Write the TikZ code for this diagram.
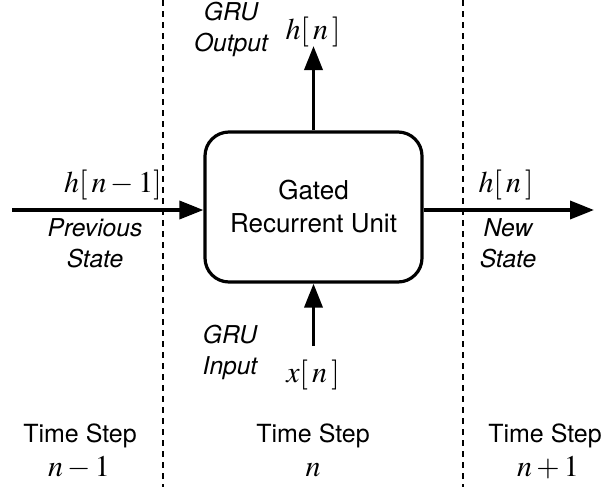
\documentclass[tikz,border=0pt]{standalone}
\usepackage{mathptmx}
\usepackage{fontspec}
\setsansfont{TeX Gyre Heros}
\usetikzlibrary{arrows.meta}
\tikzset{
  unitbox/.style={draw, line width=1.6pt, rounded corners=12pt, minimum width=108.5pt, minimum height=75pt, align=center, font=\sffamily\fontsize{13}{16.5}\selectfont},
  flow/.style={line width=1.8pt, -{Triangle[length=12pt,width=9pt]}},
  divider/.style={line width=0.7pt, dash pattern=on 3pt off 2.5pt},
  lbl/.style={font=\sffamily\itshape\fontsize{12.3}{15.5}\selectfont, align=center, inner sep=0pt},
  steplbl/.style={font=\sffamily\fontsize{12.5}{15.5}\selectfont, align=center, inner sep=0pt},
  mth/.style={font=\fontsize{15}{17}\selectfont, inner sep=0pt}
}
\newcommand{\gp}{\mkern2.5mu}
\begin{document}
\begin{tikzpicture}[x=0.5pt, y=-0.5pt]
\useasboundingbox (0,0) rectangle (608,487);
% dividers
\coordinate (d1t) at (163,0); \coordinate (d1b) at (163,487);
\coordinate (d2t) at (463,0); \coordinate (d2b) at (463,487);
\draw[divider] (d1t) -- (d1b);
\draw[divider] (d2t) -- (d2b);
% box
\node[unitbox] (gru) at (313.5,207) {Gated\\Recurrent Unit};
% connectors
\coordinate (inL) at (12,210);
\coordinate (outR) at (594,210);
\coordinate (upT) at (313.5,46);
\coordinate (dnB) at (313.5,346);
\draw[flow] (inL) -- (inL -| gru.west);
\draw[flow] (gru.east |- outR) -- (outR);
\draw[flow] (gru.north) -- (upT);
\draw[flow] (dnB) -- (gru.south);
% labels
\node[mth, anchor=base east] (hprev) at (162,192) {$h[\gp n-1]$};
\node[lbl] (prev) at (95,243) {Previous\\State};
\node[mth, anchor=base] (hnew) at (506,192) {$h[\gp n\gp]$};
\node[lbl] (new) at (508,243) {New\\State};
\node[mth, anchor=base] (hout) at (313,39) {$h[\gp n\gp]$};
\node[lbl] (gout) at (231,29) {GRU\\Output};
\node[mth, anchor=base] (xin) at (313,382) {$x[\gp n\gp]$};
\node[lbl] (gin) at (230,352) {GRU\\Input};
% time steps
\node[steplbl] (ts1) at (80,436) {Time Step};
\node[mth, anchor=base] (n1) at (79,476) {$n-1$};
\node[steplbl] (ts2) at (313,436) {Time Step};
\node[mth, anchor=base] (n2) at (313,476) {$n$};
\node[steplbl] (ts3) at (545,436) {Time Step};
\node[mth, anchor=base] (n3) at (548,476) {$n+1$};
\end{tikzpicture}
\end{document}
